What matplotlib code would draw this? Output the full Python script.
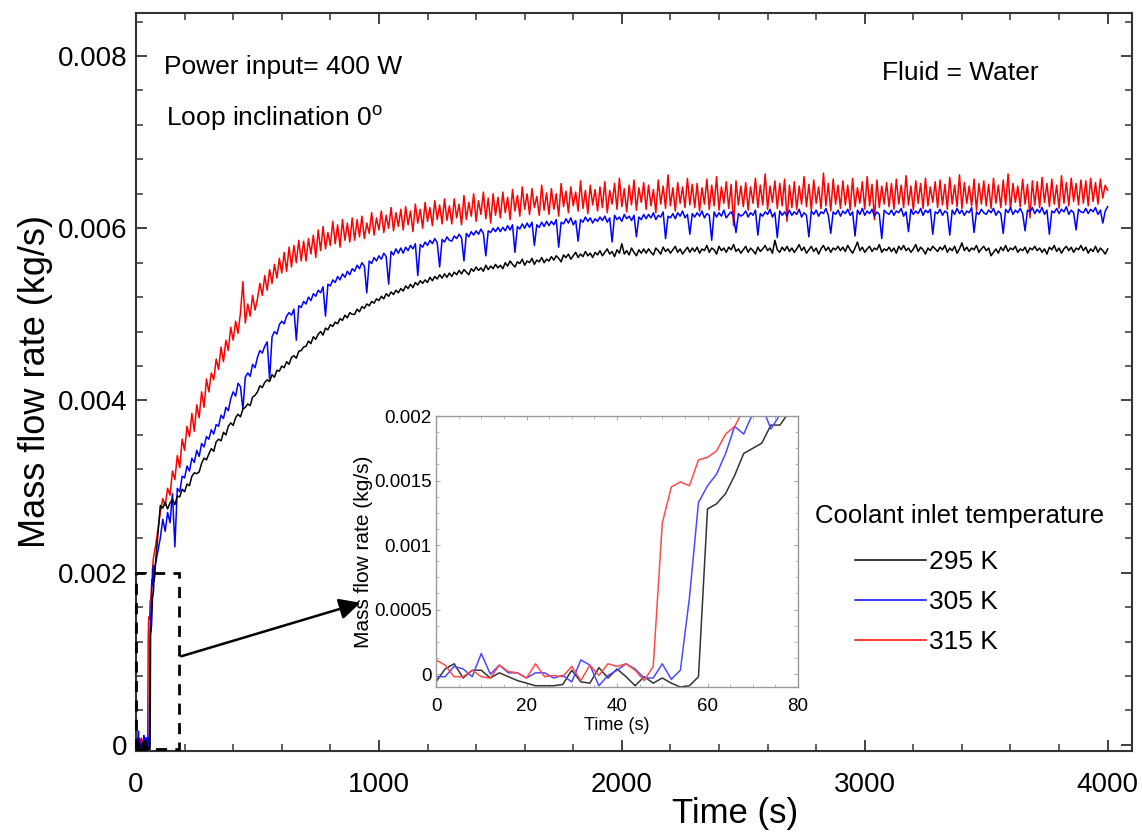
"""
Mass flow rate transients of a natural circulation loop, with inset of the start-up
"""
import numpy as np
from matplotlib import pyplot as plt
from matplotlib import patches
from matplotlib.ticker import MultipleLocator, AutoMinorLocator, FuncFormatter

plt.rcParams["font.family"] = ["Liberation Sans", "DejaVu Sans"]
plt.rcParams["mathtext.fontset"] = "custom"
plt.rcParams["mathtext.rm"] = "Liberation Sans"

# ---- data -------------------------------------------------------------
labels = ["295 K", "305 K", "315 K"]

# start-up, every 2 s from 0 to 80 s, in 1e-4 kg/s
t_early = np.arange(0, 82, 2)
early_295 = [-0.6, 0.4, 0.8, -0.3, 0.3, 0.3, -0.3, 0.1, -0.2, -0.5,
             -0.7, -0.9, -0.9, -0.9, -0.8, 0.3, -0.6, -0.7, 0.5, -0.3,
             0.4, -0.2, -0.9, -0.2, -0.7, -0.3, -0.7, -1.0, -0.9, -0.2,
             12.8, 13.2, 14.0, 15.4, 17.1, 17.5, 17.9, 19.3, 19.3, 20.3, 21.0]
early_305 = [-0.2, -0.2, 0.6, 0.4, -0.2, 1.6, 0.0, 0.7, 0.1, 0.1,
             -0.3, 0.1, 0.1, -0.3, -0.1, -0.6, 1.1, 0.7, -0.9, -0.1,
             0.3, 0.8, 0.4, -0.3, -0.3, 0.8, -0.4, 0.3, 5.9, 13.3,
             14.6, 15.5, 17.1, 19.2, 18.6, 20.2, 20.8, 19.0, 20.1, 20.6, 21.0]
early_315 = [1.1, 0.7, -0.2, -0.2, 0.3, -0.2, -0.3, 0.7, 0.2, 0.1,
             -0.3, 0.8, -0.2, -0.1, -0.2, 0.6, -0.5, 0.7, -0.1, 0.8,
             0.6, 0.8, 0.3, -0.5, 0.6, 11.7, 14.5, 14.9, 14.6, 16.6,
             16.8, 17.3, 18.6, 19.2, 20.5, 21.2, 21.8, 22.0, 22.4, 22.8, 23.0]

# rest of the run, every 10 s from 100 to 4000 s, in 1e-3 kg/s
t_late = np.arange(100, 4010, 10)
late_295 = [
    2.78, 2.75, 2.82, 2.74, 2.81, 2.85, 2.79, 2.89, 2.88, 2.97, 2.94, 3.03, 3.01, 3.12, 3.16, 3.15, 3.17, 3.27, 3.33, 3.31,
    3.38, 3.44, 3.41, 3.52, 3.55, 3.53, 3.63, 3.60, 3.70, 3.74, 3.71, 3.80, 3.84, 3.81, 3.90, 3.92, 3.96, 3.94, 4.04, 4.06,
    4.10, 4.17, 4.15, 4.21, 4.24, 4.22, 4.30, 4.27, 4.35, 4.34, 4.40, 4.38, 4.45, 4.42, 4.50, 4.52, 4.49, 4.57, 4.58, 4.62,
    4.63, 4.69, 4.66, 4.74, 4.71, 4.77, 4.80, 4.76, 4.84, 4.82, 4.88, 4.86, 4.91, 4.89, 4.95, 4.93, 4.99, 4.96, 5.02, 5.00,
    5.00, 5.06, 5.03, 5.09, 5.07, 5.12, 5.10, 5.15, 5.13, 5.18, 5.16, 5.21, 5.18, 5.24, 5.21, 5.26, 5.23, 5.28, 5.25, 5.30,
    5.27, 5.33, 5.30, 5.35, 5.31, 5.37, 5.34, 5.39, 5.36, 5.40, 5.37, 5.43, 5.39, 5.44, 5.41, 5.46, 5.42, 5.47, 5.43, 5.48,
    5.44, 5.49, 5.46, 5.51, 5.47, 5.52, 5.49, 5.46, 5.53, 5.50, 5.55, 5.51, 5.54, 5.50, 5.57, 5.52, 5.56, 5.53, 5.58, 5.54,
    5.57, 5.53, 5.60, 5.56, 5.62, 5.58, 5.55, 5.61, 5.59, 5.64, 5.57, 5.62, 5.60, 5.65, 5.58, 5.63, 5.61, 5.66, 5.60, 5.64,
    5.62, 5.67, 5.63, 5.68, 5.65, 5.61, 5.69, 5.66, 5.70, 5.64, 5.68, 5.72, 5.66, 5.70, 5.67, 5.73, 5.68, 5.71, 5.66, 5.72,
    5.69, 5.74, 5.68, 5.72, 5.76, 5.70, 5.73, 5.67, 5.75, 5.71, 5.82, 5.70, 5.74, 5.69, 5.77, 5.72, 5.68, 5.75, 5.71, 5.76,
    5.71, 5.76, 5.72, 5.69, 5.77, 5.74, 5.70, 5.78, 5.73, 5.76, 5.71, 5.75, 5.79, 5.72, 5.76, 5.70, 5.74, 5.78, 5.72, 5.77,
    5.73, 5.78, 5.71, 5.76, 5.74, 5.80, 5.72, 5.77, 5.75, 5.70, 5.79, 5.74, 5.77, 5.72, 5.78, 5.75, 5.81, 5.73, 5.76, 5.71,
    5.75, 5.79, 5.72, 5.77, 5.74, 5.70, 5.78, 5.73, 5.76, 5.80, 5.74, 5.77, 5.71, 5.86, 5.75, 5.72, 5.78, 5.74, 5.79, 5.73,
    5.77, 5.72, 5.76, 5.81, 5.74, 5.78, 5.71, 5.75, 5.79, 5.73, 5.77, 5.70, 5.76, 5.80, 5.74, 5.78, 5.72, 5.77, 5.75, 5.79,
    5.74, 5.78, 5.73, 5.80, 5.75, 5.71, 5.77, 5.84, 5.74, 5.78, 5.72, 5.76, 5.79, 5.73, 5.77, 5.75, 5.81, 5.72, 5.76, 5.74,
    5.78, 5.73, 5.77, 5.71, 5.79, 5.75, 5.80, 5.74, 5.77, 5.72, 5.76, 5.81, 5.73, 5.78, 5.75, 5.70, 5.77, 5.74, 5.79, 5.76,
    5.73, 5.78, 5.75, 5.80, 5.72, 5.77, 5.74, 5.79, 5.71, 5.76, 5.83, 5.74, 5.78, 5.73, 5.77, 5.75, 5.80, 5.72, 5.76, 5.79,
    5.74, 5.77, 5.68, 5.72, 5.76, 5.71, 5.78, 5.74, 5.80, 5.73, 5.77, 5.75, 5.79, 5.72, 5.76, 5.74, 5.78, 5.71, 5.77, 5.75,
    5.79, 5.74, 5.77, 5.72, 5.76, 5.70, 5.78, 5.75, 5.80, 5.73, 5.77, 5.71, 5.76, 5.79, 5.74, 5.78, 5.72, 5.77, 5.75, 5.80,
    5.74, 5.78, 5.71, 5.76, 5.73, 5.79, 5.72, 5.77, 5.74, 5.70, 5.76,
]
late_305 = [
    2.40, 2.62, 2.48, 2.70, 2.58, 2.92, 2.30, 2.98, 2.94, 3.12, 3.10, 3.24, 3.18, 3.33, 3.28, 3.42, 3.35, 3.50, 3.46, 3.58,
    3.55, 3.66, 3.61, 3.72, 3.70, 3.83, 3.79, 3.92, 3.88, 4.02, 4.10, 4.05, 4.20, 4.16, 3.90, 4.27, 4.32, 4.28, 4.42, 4.38,
    4.50, 4.58, 4.55, 4.63, 4.68, 4.25, 4.74, 4.80, 4.77, 4.88, 4.92, 4.89, 4.98, 5.02, 4.99, 5.06, 4.70, 5.10, 5.08, 5.15,
    5.12, 5.20, 5.16, 5.24, 5.21, 5.28, 5.25, 5.32, 4.98, 5.35, 5.33, 5.40, 5.37, 5.44, 5.40, 5.47, 5.43, 5.50, 5.46, 5.53,
    5.50, 5.57, 5.53, 5.60, 5.56, 5.25, 5.62, 5.59, 5.66, 5.62, 5.68, 5.64, 5.71, 5.67, 5.35, 5.73, 5.69, 5.76, 5.71, 5.77,
    5.71, 5.78, 5.74, 5.80, 5.76, 5.82, 5.45, 5.81, 5.78, 5.84, 5.80, 5.86, 5.82, 5.88, 5.83, 5.55, 5.87, 5.84, 5.90, 5.86,
    5.85, 5.91, 5.88, 5.93, 5.89, 5.62, 5.94, 5.90, 5.96, 5.92, 5.97, 5.93, 5.99, 5.94, 5.68, 5.97, 5.95, 6.00, 5.96, 6.01,
    5.96, 6.01, 5.97, 6.03, 5.98, 6.04, 5.72, 6.02, 5.99, 6.05, 6.00, 6.06, 6.01, 6.07, 5.80, 6.04, 6.01, 6.07, 6.02, 6.08,
    6.03, 6.08, 6.04, 6.10, 5.78, 6.07, 6.05, 6.11, 6.06, 6.12, 6.04, 6.09, 5.85, 6.10, 6.07, 6.13, 6.08, 6.12, 6.06, 6.11,
    6.08, 6.13, 6.09, 6.14, 6.07, 6.12, 5.84, 6.15, 6.10, 6.13, 6.08, 6.16, 6.11, 6.14, 6.09, 6.15, 5.90, 6.13, 6.10, 6.16,
    6.11, 6.16, 6.12, 6.18, 6.10, 6.15, 6.13, 6.19, 5.88, 6.14, 6.12, 6.17, 6.11, 6.18, 6.14, 6.20, 6.12, 6.16, 5.93, 6.17,
    6.13, 6.18, 6.14, 6.20, 6.12, 6.17, 6.15, 5.86, 6.19, 6.13, 6.18, 6.14, 6.21, 6.12, 6.16, 6.19, 6.13, 5.95, 6.17, 6.14,
    6.16, 6.20, 6.13, 6.18, 6.15, 6.21, 5.92, 6.17, 6.14, 6.19, 6.16, 6.22, 6.13, 6.18, 5.89, 6.20, 6.15, 6.19, 6.14, 6.21,
    6.15, 6.19, 6.16, 6.22, 6.13, 6.18, 6.15, 5.90, 6.20, 6.16, 6.21, 6.14, 6.19, 6.17, 6.23, 6.15, 5.94, 6.19, 6.16, 6.21,
    6.14, 6.20, 6.17, 6.22, 6.15, 6.19, 5.91, 6.21, 6.16, 6.23, 6.15, 6.20, 6.17, 6.22, 6.14, 6.19, 6.16, 5.88, 6.21, 6.18,
    6.16, 6.21, 6.15, 6.20, 6.18, 6.23, 6.14, 6.19, 5.96, 6.22, 6.16, 6.20, 6.17, 6.23, 6.15, 6.21, 6.18, 6.22, 5.93, 6.19,
    6.17, 6.22, 6.15, 6.20, 6.18, 5.92, 6.21, 6.16, 6.23, 6.17, 6.21, 6.15, 6.20, 6.18, 6.24, 5.95, 6.19, 6.16, 6.22, 6.18,
    6.16, 6.21, 6.18, 6.23, 6.15, 6.20, 6.17, 5.94, 6.22, 6.18, 6.24, 6.16, 6.21, 6.18, 6.23, 6.17, 5.97, 6.21, 6.19, 6.24,
    6.17, 6.22, 6.18, 6.24, 6.16, 6.21, 5.93, 6.20, 6.18, 6.23, 6.17, 6.22, 6.19, 6.25, 6.16, 6.21, 6.18, 5.98, 6.22, 6.19,
    6.18, 6.23, 6.17, 6.22, 6.19, 6.24, 6.16, 6.21, 6.06, 6.20, 6.25,
]
late_315 = [
    2.70, 2.86, 2.78, 2.98, 2.90, 3.18, 3.08, 3.36, 3.22, 3.55, 3.42, 3.70, 3.58, 3.85, 3.64, 3.95, 3.80, 4.10, 3.92, 4.25,
    4.10, 4.32, 4.24, 4.48, 4.36, 4.62, 4.45, 4.70, 4.58, 4.85, 4.70, 4.92, 4.78, 5.02, 5.38, 4.90, 5.12, 4.98, 5.22, 5.05,
    5.18, 5.36, 5.22, 5.45, 5.28, 5.52, 5.36, 5.58, 5.42, 5.65, 5.48, 5.72, 5.50, 5.78, 5.55, 5.80, 5.60, 5.86, 5.62, 5.85,
    5.62, 5.88, 5.70, 5.92, 5.66, 5.98, 5.74, 6.02, 5.76, 5.95, 5.80, 6.08, 5.82, 6.04, 5.78, 6.10, 5.86, 6.06, 5.84, 6.12,
    5.86, 6.10, 5.90, 6.14, 5.88, 6.06, 5.94, 6.18, 5.92, 6.12, 5.98, 6.20, 5.95, 6.15, 6.00, 6.24, 5.97, 6.18, 6.02, 6.22,
    5.98, 6.25, 6.04, 6.20, 5.96, 6.28, 6.06, 6.22, 6.00, 6.30, 6.08, 6.24, 6.03, 6.32, 6.10, 6.27, 6.05, 6.34, 6.09, 6.26,
    6.05, 6.34, 6.12, 6.28, 6.04, 6.38, 6.10, 6.30, 6.14, 6.40, 6.08, 6.32, 6.16, 6.42, 6.11, 6.35, 6.06, 6.40, 6.15, 6.36,
    6.12, 6.42, 6.18, 6.36, 6.10, 6.45, 6.20, 6.38, 6.14, 6.48, 6.22, 6.40, 6.16, 6.46, 6.24, 6.37, 6.15, 6.50, 6.21, 6.41,
    6.16, 6.46, 6.22, 6.40, 6.14, 6.52, 6.25, 6.43, 6.18, 6.48, 6.26, 6.42, 6.20, 6.55, 6.23, 6.44, 6.17, 6.50, 6.27, 6.45,
    6.20, 6.48, 6.24, 6.54, 6.18, 6.44, 6.28, 6.52, 6.22, 6.58, 6.25, 6.46, 6.19, 6.50, 6.27, 6.56, 6.21, 6.47, 6.30, 6.53,
    6.22, 6.50, 6.26, 6.45, 6.18, 6.56, 6.28, 6.49, 6.23, 6.62, 6.26, 6.47, 6.20, 6.53, 6.29, 6.48, 6.24, 6.58, 6.27, 6.51,
    6.24, 6.52, 6.20, 6.47, 6.28, 6.57, 6.22, 6.50, 6.26, 6.60, 6.21, 6.48, 6.29, 6.54, 6.23, 6.51, 6.03, 6.55, 6.27, 6.49,
    6.25, 6.53, 6.21, 6.48, 6.29, 6.58, 6.24, 6.50, 6.27, 6.63, 6.22, 6.49, 6.30, 6.55, 6.23, 6.52, 6.26, 6.57, 6.08, 6.50,
    6.24, 6.54, 6.22, 6.49, 6.28, 6.60, 6.25, 6.51, 6.21, 6.56, 6.29, 6.48, 6.23, 6.64, 6.26, 6.52, 6.20, 6.57, 6.28, 6.50,
    6.23, 6.55, 6.27, 6.50, 6.21, 6.58, 6.25, 6.47, 6.29, 6.54, 6.22, 6.60, 6.26, 6.51, 6.10, 6.56, 6.24, 6.49, 6.28, 6.53,
    6.25, 6.52, 6.22, 6.57, 6.28, 6.50, 6.24, 6.61, 6.27, 6.49, 6.21, 6.55, 6.29, 6.52, 6.23, 6.58, 6.26, 6.48, 6.30, 6.54,
    6.24, 6.56, 6.27, 6.51, 6.22, 6.59, 6.28, 6.50, 6.25, 6.62, 6.23, 6.53, 6.29, 6.49, 6.26, 6.57, 6.21, 6.52, 6.28, 6.55,
    6.26, 6.51, 6.23, 6.58, 6.29, 6.50, 6.24, 6.56, 6.27, 6.63, 6.22, 6.52, 6.30, 6.49, 6.25, 6.57, 6.28, 6.51, 6.12, 6.55,
    6.27, 6.54, 6.24, 6.59, 6.30, 6.52, 6.25, 6.57, 6.28, 6.50, 6.23, 6.61, 6.29, 6.53, 6.26, 6.58, 6.31, 6.52, 6.27, 6.56,
    6.29, 6.55, 6.26, 6.58, 6.31, 6.53, 6.28, 6.57, 6.35, 6.50, 6.44,
]

early = [early_295, early_305, early_315]
late = [late_295, late_305, late_315]
main_colors = ["black", "#0000ff", "#ff0000"]
inset_colors = ["#333333", "#4a4aff", "#ff4a4a"]

# zoomed window marked on the main plot
box_t, box_q = 175, 0.002

# ---- figure -----------------------------------------------------------
fig = plt.figure(figsize=(11.42, 8.4), dpi=100, facecolor="white")
ax = fig.add_axes([0.1191, 0.106, 0.8721, 0.8786])

t_all = np.concatenate([t_early, t_late])
handles = []
for i in [2, 1, 0]:
    q = np.concatenate([np.array(early[i]) * 1e-4, np.array(late[i]) * 1e-3])
    (ln,) = ax.plot(t_all, q, color=main_colors[i], lw=1.1, label=labels[i])
    handles.append(ln)

ax.set_xlim(0, 4100)
ax.set_ylim(-0.00007, 0.0085)
ax.xaxis.set_major_locator(MultipleLocator(1000))
ax.xaxis.set_minor_locator(MultipleLocator(200))
ax.yaxis.set_major_locator(MultipleLocator(0.002))
ax.yaxis.set_minor_locator(MultipleLocator(0.0004))
ax.xaxis.set_major_formatter(FuncFormatter(lambda v, p: f"{v:g}"))
ax.yaxis.set_major_formatter(FuncFormatter(lambda v, p: f"{v:g}"))

for s in ax.spines.values():
    s.set_color("#333333")
    s.set_linewidth(1.5)
ax.tick_params(which="both", direction="in", top=True, right=True, colors="#333333")
ax.tick_params(which="major", length=8, width=1.3, labelsize=20, labelcolor="black")
ax.tick_params(which="minor", length=5, width=1.1)
ax.tick_params(axis="x", which="major", pad=15)
ax.tick_params(axis="y", which="major", pad=6)

ax.set_xlabel("Time (s)", fontsize=25)
ax.xaxis.set_label_coords(0.601, -0.062)
ax.set_ylabel("Mass flow rate (kg/s)", fontsize=26)
ax.yaxis.set_label_coords(-0.083, 0.5)

ax.text(0.028, 0.927, "Power input= 400 W", transform=ax.transAxes,
        fontsize=19, va="center", ha="left")
ax.text(0.030, 0.858, r"Loop inclination 0$^\mathrm{o}$", transform=ax.transAxes,
        fontsize=19, va="center", ha="left")
ax.text(0.749, 0.919, "Fluid = Water", transform=ax.transAxes,
        fontsize=19, va="center", ha="left")

# legend
ax.text(0.682, 0.318, "Coolant inlet temperature", transform=ax.transAxes,
        fontsize=18.5, va="center", ha="left")
ax.legend(handles=handles[::-1], labels=labels, loc="upper left",
          bbox_to_anchor=(0.722, 0.272), frameon=False, fontsize=19,
          handlelength=2.7, handletextpad=0.1, labelspacing=0.6,
          borderpad=0, borderaxespad=0)

# dashed zoom box and arrow to the inset
ax.add_patch(patches.Rectangle((0, -0.00005), box_t, box_q + 0.00005, fill=False,
                               ls=(0, (4, 3)), lw=2, ec="black", clip_on=False, zorder=5))
ax.annotate("", xy=(935, 0.00166), xytext=(box_t, 0.00102),
            arrowprops=dict(arrowstyle="-|>", mutation_scale=32, lw=1.8, color="black"))

# ---- inset ------------------------------------------------------------
axin = fig.add_axes([0.3818, 0.1821, 0.317, 0.3226])
for i in range(3):
    axin.plot(t_early, np.array(early[i]) * 1e-4, color=inset_colors[i], lw=1.1)
axin.set_xlim(0, 80)
axin.set_ylim(-0.0001, 0.002)
axin.xaxis.set_major_locator(MultipleLocator(20))
axin.xaxis.set_minor_locator(AutoMinorLocator(4))
axin.yaxis.set_major_locator(MultipleLocator(0.0005))
axin.yaxis.set_minor_locator(AutoMinorLocator(4))
axin.yaxis.set_major_formatter(FuncFormatter(lambda v, p: f"{v:g}"))
for s in axin.spines.values():
    s.set_color("#999999")
    s.set_linewidth(1)
axin.tick_params(which="both", direction="in", top=True, right=True, colors="#aaaaaa")
axin.tick_params(which="major", length=3, labelsize=13.5, labelcolor="black")
axin.tick_params(which="minor", length=2)
axin.tick_params(axis="x", pad=8)
axin.tick_params(axis="y", pad=3)
axin.set_xlabel("Time (s)", fontsize=13, labelpad=1)
axin.set_ylabel("Mass flow rate (kg/s)", fontsize=15, labelpad=1)

fig.savefig("out.png", dpi=100, facecolor="white")
